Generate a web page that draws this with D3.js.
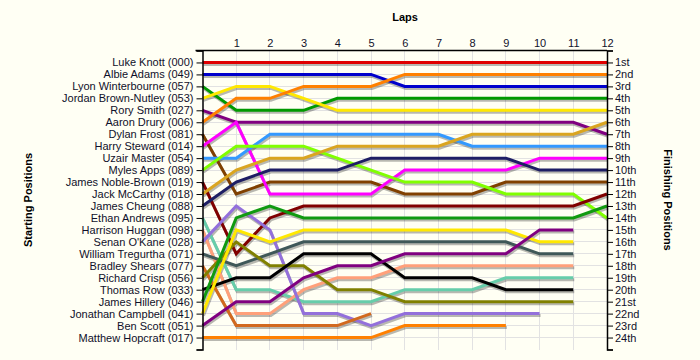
<!DOCTYPE html>
<html><head><meta charset="utf-8">
<script src="https://cdn.jsdelivr.net/npm/d3@7"></script>
<style>
body{margin:0;background:#FFFFF4;}
svg{display:block;font-family:"Liberation Sans",Arial,sans-serif;}
</style></head>
<body><svg id="c" width="700" height="360"></svg>
<script>
const laps = [0,1,2,3,4,5,6,7,8,9,10,11,12];
const drivers = ["Luke Knott (000)","Albie Adams (049)","Lyon Winterbourne (057)","Jordan Brown-Nutley (053)","Rory Smith (027)","Aaron Drury (006)","Dylan Frost (081)","Harry Steward (014)","Uzair Master (054)","Myles Apps (089)","James Noble-Brown (019)","Jack McCarthy (018)","James Cheung (088)","Ethan Andrews (095)","Harrison Huggan (098)","Senan O'Kane (028)","William Tregurtha (071)","Bradley Shears (077)","Richard Crisp (056)","Thomas Row (033)","James Hillery (046)","Jonathan Campbell (041)","Ben Scott (051)","Matthew Hopcraft (017)"];
const colors = ["#E00000","#0000CC","#009900","#FFE800","#800080","#FF8000","#804000","#FF00FF","#3399FF","#80FF00","#800000","#DAA520","#1E1E64","#66CDAA","#FFA07A","#9370DB","#3F5858","#D2691E","#808000","#000000","#109A10","#FFE800","#800080","#FF8000"];
const positions = [
 [1,1,1,1,1,1,1,1,1,1,1,1,1],
 [2,2,2,2,2,2,3,3,3,3,3,3,3],
 [3,5,5,5,4,4,4,4,4,4,4,4,4],
 [4,3,3,4,5,5,5,5,5,5,5,5,5],
 [5,6,6,6,6,6,6,6,6,6,6,6,7],
 [6,4,4,3,3,3,2,2,2,2,2,2,2],
 [7,12,11,11,11,11,12,12,12,11,11,11,11],
 [8,6,12,12,12,12,10,10,10,10,9,9,9],
 [9,9,7,7,7,7,7,7,8,8,8,8,8],
 [10,8,8,8,9,10,11,11,11,12,12,12,14],
 [11,17,14,13,13,13,13,13,13,13,13,13,12],
 [12,10,9,9,8,8,8,8,7,7,7,7,6],
 [13,11,10,10,10,9,9,9,9,9,10,10,10],
 [14,20,20,21,21,21,20,20,20,19,19,19],
 [15,22,22,20,19,19,18,18,18,18,18,18],
 [16,13,15,22,22,23,22,22,22,22,22],
 [17,18,17,16,16,16,16,16,16,16,17,17],
 [18,23,23,23,23,22],
 [19,16,18,18,20,20,21,21,21,21,21,21],
 [20,19,19,17,17,17,19,19,19,20,20,20],
 [21,14,13,14,14,14,14,14,14,14,14,14,13],
 [22,15,16,15,15,15,15,15,15,15,16,16],
 [23,21,21,19,18,18,17,17,17,17,15,15],
 [24,24,24,24,24,24,23,23,23,23]
];
const finishLabels = ["1st","2nd","3rd","4th","5th","6th","7th","8th","9th","10th","11th","12th","13th","14th","15th","16th","17th","18th","19th","20th","21st","22nd","23rd","24th"];

const svg = d3.select("#c");
const x = d3.scaleLinear().domain([0,12]).range([202.5,607]);
const y = d3.scaleLinear().domain([0,25]).range([50.5,349.5]);
const posTicks = d3.range(1,25);

// grid
const g = svg.append("g");
g.selectAll(".vg").data(laps.slice(1,12)).join("line")
 .attr("x1",d=>x(d)).attr("x2",d=>x(d)).attr("y1",y(0)).attr("y2",y(25))
 .attr("stroke","#E2E2E2").attr("stroke-width",1).attr("shape-rendering","crispEdges");
g.selectAll(".hg").data(posTicks).join("line")
 .attr("x1",x(0)).attr("x2",x(12)).attr("y1",d=>y(d)).attr("y2",d=>y(d))
 .attr("stroke","#E2E2E2").attr("stroke-width",1).attr("shape-rendering","crispEdges");

const line = d3.line().x((d,i)=>x(i)).y(d=>y(d));
// shadows
svg.append("g").attr("transform","translate(1,2)").selectAll("path").data(positions).join("path")
 .attr("d",d=>line(d)).attr("fill","none").attr("stroke","rgba(0,0,0,0.28)").attr("stroke-width",3);
svg.append("g").selectAll("path").data(positions).join("path")
 .attr("d",d=>line(d)).attr("fill","none").attr("stroke",(d,i)=>colors[i]).attr("stroke-width",3);

// axes
const axL = svg.append("g").attr("transform",`translate(${x(0)},0)`)
 .call(d3.axisLeft(y).tickValues([0].concat(posTicks,[25])).tickSize(6).tickPadding(3)
   .tickFormat(d=>(d>=1&&d<=24)?drivers[d-1]:""));
const axR = svg.append("g").attr("transform",`translate(${x(12)},0)`)
 .call(d3.axisRight(y).tickValues([0].concat(posTicks,[25])).tickSize(6).tickPadding(2)
   .tickFormat(d=>(d>=1&&d<=24)?finishLabels[d-1]:""));
const axT = svg.append("g").attr("transform",`translate(0,${y(0)})`)
 .call(d3.axisTop(x).tickValues(laps.slice(1)).tickSize(0).tickPadding(4).tickFormat(d3.format("d")));
[axL,axR,axT].forEach(a=>{
  a.select(".domain").attr("stroke","#000").attr("stroke-width",1.5);
  a.selectAll(".tick line").attr("stroke","#000");
  a.selectAll("text").attr("font-size","11px").attr("fill","#10102a").attr("font-family","'Liberation Sans',Arial,sans-serif");
});
axT.select(".domain").attr("d",`M${x(0)-7},0H${x(12)}`);

svg.append("text").attr("x",405).attr("y",21).attr("text-anchor","middle")
 .attr("font-weight","bold").attr("font-size","11px").text("Laps");
svg.append("text").attr("transform","translate(32,200) rotate(-90)").attr("text-anchor","middle")
 .attr("font-weight","bold").attr("font-size","11px").text("Starting Positions");
svg.append("text").attr("transform","translate(664,200) rotate(90)").attr("text-anchor","middle")
 .attr("font-weight","bold").attr("font-size","11px").text("Finishing Positions");
</script></body></html>
